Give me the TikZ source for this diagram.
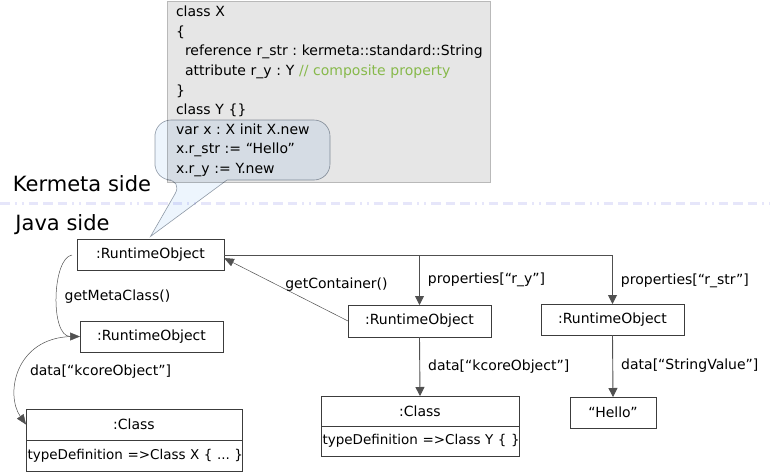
\documentclass[tikz,border=0pt]{standalone}
\usepackage{fontspec}
\setmainfont{DejaVu Sans}
\usepackage{tikz}
\usetikzlibrary{positioning,arrows.meta}
\definecolor{boxline}{RGB}{60,60,60}
\definecolor{arrowgrey}{RGB}{80,80,80}
\definecolor{codegrey}{RGB}{230,230,230}
\definecolor{codeline}{RGB}{185,185,185}
\definecolor{commentgreen}{RGB}{135,185,75}
\definecolor{bubblefill}{RGB}{237,245,253}
\definecolor{bubbleline}{RGB}{150,158,168}
\definecolor{sepline}{RGB}{230,230,250}
\frenchspacing

\begin{document}
\begin{tikzpicture}[x=1pt,y=-1pt,
    obj/.style={draw=boxline,line width=0.9pt,outer sep=0pt,inner sep=2pt,minimum height=31pt,font=\fontsize{14}{16}\selectfont},
    objdef/.style={obj,inner xsep=1.5pt,align=left,font=\fontsize{13.5}{16}\selectfont},
    lbl/.style={inner sep=1pt,font=\fontsize{14}{16}\selectfont},
    prop/.style={draw=arrowgrey,line width=0.9pt,-{Triangle[width=9pt,length=9pt]}},
    link/.style={draw=arrowgrey,line width=0.5pt,-{Triangle[width=8pt,length=10pt]}},
    side/.style={inner sep=0pt,font=\fontsize{21}{25}\selectfont}]
  \useasboundingbox (0,0) rectangle (770,474);
  \node[draw=codeline,fill=codegrey,line width=0.6pt,minimum width=323pt,minimum height=181pt,
    text width=305pt,inner xsep=9pt,align=left,font=\fontsize{14}{19.6}\selectfont] (code) at (328.5,91.5) {class X\\
    \{\\
    \mbox{\hspace*{9pt}reference r\_str : kermeta::standard::String}\\
    \mbox{\hspace*{9pt}attribute r\_y : Y {\color{commentgreen}// composite property}}\\
    \}\\
    class Y \{\}\\
    var x : X init X.new\\
    x.r\_str := “Hello”\\
    x.r\_y := Y.new};
  \node[side] (kside) at (82,184) {Kermeta side};
  \node[side] (jside) at (62.5,225) {Java side};
  \draw[sepline,line width=3pt,dash pattern=on 9.5pt off 5pt on 2pt off 5pt on 2pt off 5pt on 9.5pt off 5pt on 9.5pt off 5pt] (0,203) -- (770,203);
  \node[obj,minimum width=147pt] (rA) at (150.5,255) {:RuntimeObject};
  \node[obj,minimum width=143pt] (rB) at (151.5,336.5) {:RuntimeObject};
  \node[obj,minimum width=216pt] (cX) at (134,424.5) {:Class};
  \node[objdef,text width=213pt,below=0pt of cX] (cXdef) {\mbox{typeDefinition =>Class X \{ ... \}}};
  \node[obj,minimum width=143pt,minimum height=32pt] (rD) at (419.5,321) {:RuntimeObject};
  \node[obj,minimum width=143pt] (rE) at (612.5,319.5) {:RuntimeObject};
  \node[obj,minimum width=198pt,minimum height=30pt] (cY) at (420,411) {:Class};
  \node[objdef,text width=195pt,minimum height=30pt,below=0pt of cY] (cYdef) {\mbox{typeDefinition =>Class Y \{ \}}};
  \node[obj,minimum width=86pt] (hello) at (613,412.5) {“Hello”};
  \draw[prop] (rA.east) -| node[lbl,pos=0.76,right=7pt] (lrstr) {properties[“r\_str”]} (rE.north);
  \draw[prop] (rD.north |- rA.east) -- node[lbl,right=7pt] (lry) {properties[“r\_y”]} (rD.north);
  \draw[prop] (rD.south) -- node[lbl,right=7pt] (lkcY) {data[“kcoreObject”]} (cY.north);
  \draw[prop] (rE.south) -- node[lbl,right=7pt] (lsv) {data[“StringValue”]} (hello.north);
  \draw[link] (rD.west) -- ([yshift=-3pt]rA.east);
  \node[lbl] (lgc) at (336.5,285) {getContainer()};
  \draw[link] ([xshift=-5pt]rA.west) .. controls +(-20,3) and +(-30,0) .. (rB.west);
  \node[lbl] (lmc) at (117.5,297) {getMetaClass()};
  \draw[link] ([xshift=-8pt]rB.west) .. controls +(-57,1) and +(-21,-30) .. (cX.west);
  \node[lbl] (lkcX) at (100.5,372) {data[“kcoreObject”]};
  \filldraw[fill=bubblefill,draw=bubbleline,line width=0.6pt,blend mode=multiply] (155,150) [rounded corners=16pt] -- (155,180) -- (183,180)
    [sharp corners] -- ([yshift=3pt]rA.north) -- (227,180) [rounded corners=16pt] -- (330,180) -- (330,120) -- (155,120) -- cycle;
\end{tikzpicture}
\end{document}
